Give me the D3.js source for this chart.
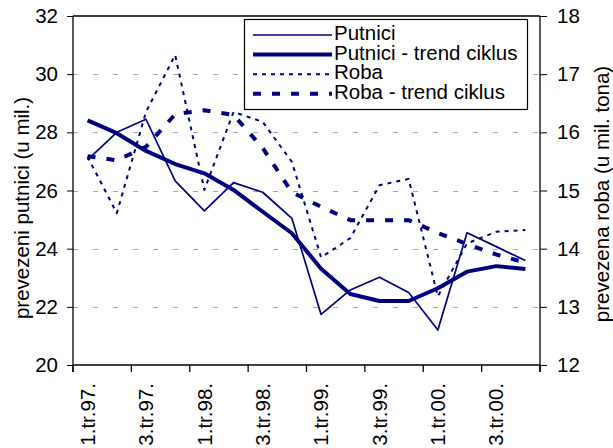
<!DOCTYPE html>
<html>
<head>
<meta charset="utf-8">
<script src="https://cdn.jsdelivr.net/npm/d3@7"></script>
<style>
    body { margin: 0; background: #fff; }
    svg text { font-family: "Liberation Sans", Arial, sans-serif; fill: #000; }
</style>
</head>
<body>
<div class="chart"></div>
<script>
var quarters = ["1.tr.97.", "2.tr.97.", "3.tr.97.", "4.tr.97.",
                "1.tr.98.", "2.tr.98.", "3.tr.98.", "4.tr.98.",
                "1.tr.99.", "2.tr.99.", "3.tr.99.", "4.tr.99.",
                "1.tr.00.", "2.tr.00.", "3.tr.00.", "4.tr.00."];
// putnici in mil. (left axis)
var putnici = [27.05, 28.0, 28.45, 26.33, 25.3, 26.27, 25.94, 25.04,
               21.74, 22.58, 23.02, 22.49, 21.2, 24.55, 24.07, 23.59];
var putniciTrend = [28.41, 27.97, 27.36, 26.91, 26.59, 26.02, 25.27, 24.53,
                    23.31, 22.44, 22.2, 22.2, 22.64, 23.21, 23.4, 23.3];
// roba in mil. tona (right axis)
var roba = [15.58, 14.61, 16.35, 17.33, 15.01, 16.35, 16.18, 15.49,
            13.85, 14.18, 15.09, 15.2, 13.18, 14.09, 14.29, 14.32];
var robaTrend = [15.59, 15.52, 15.75, 16.31, 16.38, 16.3, 15.73, 14.97,
                 14.72, 14.49, 14.49, 14.49, 14.27, 14.08, 13.9, 13.76];
var leftTicks = [20, 22, 24, 26, 28, 30, 32];
var rightTicks = [12, 13, 14, 15, 16, 17, 18];
var legendLabels = ["Putnici", "Putnici - trend ciklus", "Roba", "Roba - trend ciklus"];

var Chart = {
    width: 613,
    height: 448,
    left: 73,
    right: 540,
    top: 16,
    bottom: 365,
    color: "#000080",
    fontSize: "20.5px",
    svg: null,

    init: function () {
        this.svg = d3.select(".chart").append("svg")
            .attr("width", this.width)
            .attr("height", this.height);

        this.x = d3.scaleBand().domain(quarters).range([this.left, this.right]).padding(0);
        this.yLeft = d3.scaleLinear().domain([20, 32]).range([this.bottom, this.top]);
        this.yRight = d3.scaleLinear().domain([12, 18]).range([this.bottom, this.top]);

        this.drawGrid()
            .drawAxes()
            .drawLines()
            .drawLegend()
            .drawTitles();
    },

    drawGrid: function () {
        var self = this;
        this.svg.append("g").selectAll("line")
            .data(leftTicks.slice(1, -1))
            .enter().append("line")
            .attr("x1", this.left).attr("x2", this.right)
            .attr("y1", function (d) { return Math.round(self.yLeft(d)) + 0.5; })
            .attr("y2", function (d) { return Math.round(self.yLeft(d)) + 0.5; })
            .attr("stroke", "#a6a6a6")
            .attr("stroke-width", 1)
            .attr("stroke-dasharray", "5,15");
        return this;
    },

    drawAxes: function () {
        var self = this;

        var left = this.svg.append("g")
            .attr("transform", "translate(" + this.left + ",0)")
            .call(d3.axisLeft(this.yLeft).tickValues(leftTicks).tickFormat(d3.format("d"))
                .tickSize(6).tickPadding(9));
        var right = this.svg.append("g")
            .attr("transform", "translate(" + this.right + ",0)")
            .call(d3.axisRight(this.yRight).tickValues(rightTicks).tickFormat(d3.format("d"))
                .tickSize(7).tickPadding(10));

        [left, right].forEach(function (g) {
            g.select(".domain").remove();
            g.selectAll("line").attr("stroke", "#000");
            g.selectAll("text").style("font-size", self.fontSize).attr("font-family", null);
        });

        // frame: left, right, top, bottom
        var frame = this.svg.append("g").attr("stroke", "#000").attr("stroke-width", 1.3);
        frame.append("line").attr("x1", this.left).attr("x2", this.left).attr("y1", this.top).attr("y2", this.bottom + 7);
        frame.append("line").attr("x1", this.right).attr("x2", this.right).attr("y1", this.top).attr("y2", this.bottom + 7);
        frame.append("line").attr("x1", this.left).attr("x2", this.right).attr("y1", this.top).attr("y2", this.top);
        frame.append("line").attr("x1", this.left).attr("x2", this.right).attr("y1", this.bottom).attr("y2", this.bottom);

        // category ticks between every second quarter
        var bounds = quarters.filter(function (d, i) { return i % 2 === 0; })
            .map(function (d) { return self.x(d); })
            .concat([this.right]);
        frame.selectAll("line.tick")
            .data(bounds)
            .enter().append("line")
            .attr("x1", function (d) { return d; })
            .attr("x2", function (d) { return d; })
            .attr("y1", this.bottom)
            .attr("y2", this.bottom + 7);

        var bottom = this.svg.append("g")
            .attr("transform", "translate(0," + this.bottom + ")")
            .call(d3.axisBottom(this.x)
                .tickValues(quarters.filter(function (d, i) { return i % 2 === 0; }))
                .tickSize(0));
        bottom.select(".domain").remove();
        bottom.selectAll("text")
            .style("font-size", this.fontSize)
            .attr("font-family", null)
            .attr("text-anchor", "end")
            .attr("transform", "rotate(-90)")
            .attr("x", -18)
            .attr("y", 0)
            .attr("dy", "0.35em");
        return this;
    },

    drawLines: function () {
        var self = this;
        var cx = function (i) { return self.x(quarters[i]) + self.x.bandwidth() / 2; };
        var lineLeft = d3.line().x(function (d, i) { return cx(i); }).y(function (d) { return self.yLeft(d); });
        var lineRight = d3.line().x(function (d, i) { return cx(i); }).y(function (d) { return self.yRight(d); });

        var series = [
            { values: putnici, line: lineLeft, width: 1.7, dash: null },
            { values: putniciTrend, line: lineLeft, width: 4, dash: null },
            { values: roba, line: lineRight, width: 2, dash: "4,5" },
            { values: robaTrend, line: lineRight, width: 4, dash: "8,11" }
        ];
        this.series = series;

        this.svg.append("g").selectAll("path")
            .data(series)
            .enter().append("path")
            .attr("d", function (d) { return d.line(d.values); })
            .attr("fill", "none")
            .attr("stroke", this.color)
            .attr("stroke-width", function (d) { return d.width; })
            .attr("stroke-dasharray", function (d) { return d.dash; })
            .attr("stroke-linejoin", "round");
        return this;
    },

    drawLegend: function () {
        var self = this;
        var box = { x: 244.5, y: 19.5, w: 283, h: 90 };
        var legend = this.svg.append("g");
        legend.append("rect")
            .attr("x", box.x).attr("y", box.y)
            .attr("width", box.w).attr("height", box.h)
            .attr("fill", "#fff")
            .attr("stroke", "#000")
            .attr("stroke-width", 1.2);

        var rows = legend.selectAll("g.row")
            .data(legendLabels)
            .enter().append("g")
            .attr("transform", function (d, i) { return "translate(0," + (40 + i * 19.6) + ")"; });

        rows.append("line")
            .attr("x1", 253).attr("x2", 332)
            .attr("y1", -5).attr("y2", -5)
            .attr("stroke", this.color)
            .attr("stroke-width", function (d, i) { return self.series[i].width; })
            .attr("stroke-dasharray", function (d, i) { return self.series[i].dash; });

        rows.append("text")
            .attr("x", 334)
            .style("font-size", this.fontSize)
            .text(function (d) { return d; });
        return this;
    },

    drawTitles: function () {
        this.svg.append("text")
            .attr("transform", "translate(29,208) rotate(-90)")
            .attr("text-anchor", "middle")
            .style("font-size", this.fontSize)
            .text("prevezeni putnici (u mil.)");
        this.svg.append("text")
            .attr("transform", "translate(609,194) rotate(-90)")
            .attr("text-anchor", "middle")
            .style("font-size", this.fontSize)
            .text("prevezena roba (u mil. tona)");
        return this;
    }
};

Chart.init();
</script>
</body>
</html>
